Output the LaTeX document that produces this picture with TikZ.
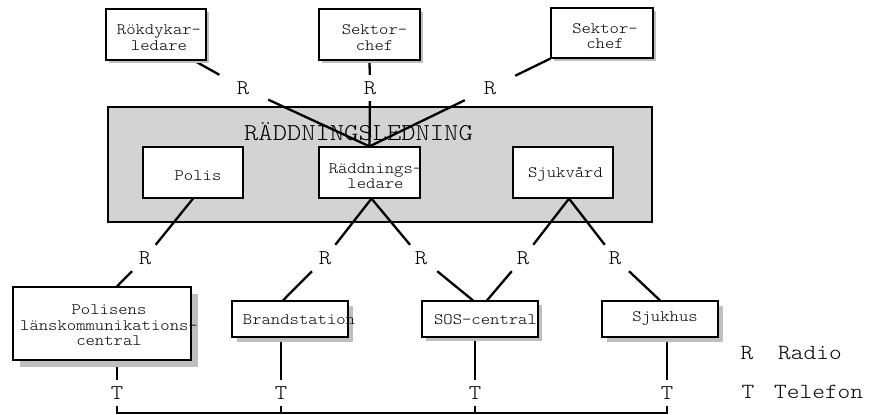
\documentclass[tikz,border=0pt]{standalone}
\usepackage{fontspec}
\setmonofont{Latin Modern Mono Light}[FakeStretch=1.12]
\usetikzlibrary{shadows,calc,backgrounds}
\pgfdeclarelayer{bottomlayer}
\pgfsetlayers{bottomlayer,background,main}
\definecolor{bggray}{RGB}{211,211,211}
\definecolor{shgray}{RGB}{190,190,195}
\tikzset{
  frame/.style={draw=black, fill=white, line width=1.2pt, inner sep=0pt},
  box/.style={frame, drop shadow={shadow xshift=#1, shadow yshift=-#1, fill=shgray, opacity=1}},
  tx/.style={font=\fontsize{15.9}{15.5}\selectfont\ttfamily, align=center, inner sep=0pt},
  big/.style={font=\fontsize{24.3}{24.3}\selectfont\ttfamily, inner sep=0pt, text height=14.8pt, text depth=0pt},
  lk/.style={font=\fontsize{21}{21}\selectfont\ttfamily, minimum width=50pt, minimum height=26pt, inner sep=0pt, text height=12.8pt, text depth=0pt},
  leg/.style={font=\fontsize{21.6}{21.6}\selectfont\ttfamily, inner sep=0pt},
  conn/.style={line width=2.3pt},
}
\begin{document}
\begin{tikzpicture}[x=1pt,y=-1pt]
\useasboundingbox (0,0) rectangle (881,415);
% big grey frame
\begin{pgfonlayer}{bottomlayer}
\node[draw=black, fill=bggray, line width=1.2pt, minimum width=544pt, minimum height=115pt, inner sep=0pt,
  label={[big, xshift=-21.5pt, yshift=31pt]center:RÄDDNINGSLEDNING}] (rled) at (380,164.5) {};
\end{pgfonlayer}
% top boxes
\node[box=3pt, minimum width=100pt, minimum height=51pt,
  label={[tx, xshift=3pt, yshift=-3pt]center:{Rökdykar-\\ledare}}] (rok) at (156,34.5) {};
\node[box=3pt, minimum width=101pt, minimum height=51pt,
  label={[tx, xshift=5pt, yshift=-3pt]center:{Sektor-\\chef}}] (sek1) at (369.5,34.5) {};
\node[box=3pt, minimum width=102pt, minimum height=50pt,
  label={[tx, xshift=3pt, yshift=-3pt]center:{Sektor-\\chef}}] (sek2) at (602,33) {};
% middle boxes
\node[frame, minimum width=100pt, minimum height=51pt,
  label={[tx, xshift=5pt, yshift=-3pt]center:Polis}] (polis) at (193,172.5) {};
\node[frame, minimum width=101pt, minimum height=51pt,
  label={[tx, xshift=6pt, yshift=-3.5pt]center:{Räddnings-\\ledare}}] (rl) at (369.5,172.5) {};
\node[frame, minimum width=100pt, minimum height=51pt,
  label={[tx, xshift=2.5pt, yshift=-1.5pt]center:Sjukvård}] (sjv) at (563,172.5) {};
% bottom boxes
\node[box=7pt, minimum width=178pt, minimum height=73pt,
  label={[tx, xshift=7pt, yshift=-2pt]center:{Polisens\\länskommunikations-\\central}}] (pol) at (102,323.5) {};
\node[box=5pt, minimum width=116pt, minimum height=36pt,
  label={[tx, xshift=9pt, yshift=-1pt]center:Brandstation}] (brand) at (290,319) {};
\node[box=4pt, minimum width=116pt, minimum height=36pt,
  label={[tx, xshift=5.5pt, yshift=-1pt]center:SOS-central}] (sos) at (480,319) {};
\node[box=5pt, minimum width=116pt, minimum height=36pt,
  label={[tx, xshift=5pt, yshift=0.5pt]center:Sjukhus}] (sjh) at (660,319) {};
% link labels
\node[lk] (r1) at (243,88) {R};
\node[lk] (r2) at (370,88) {R};
\node[lk] (r3) at (490,88) {R};
\node[lk] (r4) at (145,258) {R};
\node[lk] (r5) at (325,258) {R};
\node[lk] (r6) at (421,258) {R};
\node[lk] (r7) at (523,258) {R};
\node[lk] (r8) at (615,258) {R};
\node[lk] (t1) at (117,393) {T};
\node[lk] (t2) at (281,393) {T};
\node[lk] (t3) at (475,393) {T};
\node[lk] (t4) at (667,393) {T};
\coordinate (b1) at (117,413);
\coordinate (b4) at (667,413);
% legend
\node[leg, anchor=base] (lgr) at (747,359) {R};
\node[leg, anchor=base west] (lgrt) at (778,359) {Radio};
\node[leg, anchor=base] (lgt) at (748,398) {T};
\node[leg, anchor=base west] (lgtt) at (774,398) {Telefon};
% connectors
\begin{pgfonlayer}{background}
\draw[conn] ($(rok.south)+(38,0)$) -- (r1) -- (rl.north);
\draw[conn] (sek1.south) -- (r2) -- (rl.north);
\draw[conn] (sek2.south west) -- (r3) -- (rl.north);
\draw[conn] (polis.south) -- (r4) -- ($(pol.north)+(15,0)$);
\draw[conn] ($(rl.south)+(2,0)$) -- (r5) -- ($(brand.north)+(-7,0)$);
\draw[conn] ($(rl.south)+(2,0)$) -- (r6) -- ($(sos.north)+(-7,0)$);
\draw[conn] ($(sjv.south)+(6,0)$) -- (r7) -- ($(sos.north)+(7,0)$);
\draw[conn] ($(sjv.south)+(6,0)$) -- (r8) -- (sjh.north);
\draw[conn] ($(pol.south)+(15,0)$) -- (t1) -- (b1) -- (b4) -- (t4) -- ($(sjh.south)+(7,0)$);
\draw[conn] ($(brand.south)+(-9,0)$) -- (t2) -- (t2 |- b1);
\draw[conn] ($(sos.south)+(-5,0)$) -- (t3) -- (t3 |- b1);
\end{pgfonlayer}
\end{tikzpicture}
\end{document}
